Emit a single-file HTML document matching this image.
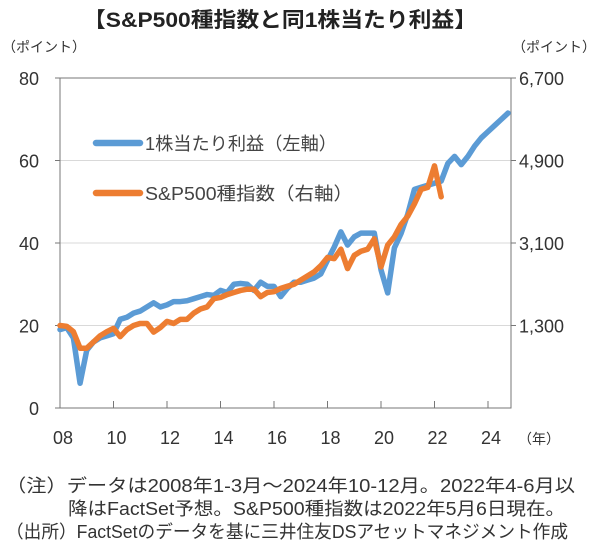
<!DOCTYPE html>
<html><head><meta charset="utf-8">
<style>
body{margin:0;background:#fff;width:600px;height:555px;overflow:hidden;font-family:"Liberation Sans","Noto Sans CJK JP",sans-serif;color:#333}
svg text{font-family:"Liberation Sans","Noto Sans CJK JP",sans-serif}
</style></head><body>
<svg id="chart" width="600" height="555" xmlns="http://www.w3.org/2000/svg">
<text x="83" y="27" textLength="394" lengthAdjust="spacingAndGlyphs" font-size="21" font-weight="bold" fill="#222">【S&amp;P500種指数と同1株当たり利益】</text>
<text x="2" y="52" font-size="14" fill="#333">（ポイント）</text>
<text x="512" y="52" font-size="14" fill="#333">（ポイント）</text>
<g id="grid"></g>
<rect x="60" y="78" width="451" height="330" fill="none" stroke="#777" stroke-width="1"/>
<g id="axes"></g>
<g id="series"></g>
<g>
<line x1="96" y1="143" x2="140" y2="143" stroke="#5B9BD5" stroke-width="6.5" stroke-linecap="round"/>
<text x="145" y="150" font-size="18" textLength="192" lengthAdjust="spacingAndGlyphs" fill="#444">1株当たり利益（左軸）</text>
<line x1="96" y1="193" x2="140" y2="193" stroke="#ED7D31" stroke-width="6.5" stroke-linecap="round"/>
<text x="145" y="200" font-size="18" textLength="208" lengthAdjust="spacingAndGlyphs" fill="#444">S&amp;P500種指数（右軸）</text>
</g>
<text x="518" y="444" font-size="14" fill="#333">（年）</text>
<g font-size="18" fill="#333">
<text x="6" y="492" textLength="569" lengthAdjust="spacingAndGlyphs">（注）データは2008年1-3月～2024年10-12月。2022年4-6月以</text>
<text x="68" y="515" textLength="497" lengthAdjust="spacingAndGlyphs">降はFactSet予想。S&amp;P500種指数は2022年5月6日現在。</text>
<text x="6" y="538" textLength="562" lengthAdjust="spacingAndGlyphs">（出所）FactSetのデータを基に三井住友DSアセットマネジメント作成</text>
</g>
</svg>
<script>
const eps = [19,19.5,17,6, 14,16,17,17.5, 18,21.5,22,23, 23.5,24.5,25.5,24.5, 25,25.8,25.8,26, 26.5,27,27.5,27.3, 28.5,28,30,30.2, 30,28.5,30.5,29.5, 29.5,27,29,30.5, 30.5,31,31.5,32.5, 35.8,39,42.7,39.5, 41.5,42.4,42.4,42.4, 33.5,27.9,38.8,42.3, 47,53,53.5,54, 54.5,55,59.3,61, 59,61,63.5,65.5, 67,68.5,70,71.5];
const sp500 = [1300,1282,1165,805, 805,940,1075,1165, 1237,1057,1210,1300, 1345,1345,1156,1255, 1390,1345,1435,1435, 1570,1660,1705,1885, 1912,1975,2020,2065, 2092,2092,1930,2020, 2038,2110,2155,2200, 2290,2380,2470,2605, 2785,2758,2965,2542, 2830,2920,2965,3190, 2578,3055,3235,3505, 3685,3955,4270,4315, 4783,4108];
const leftTicks = [0,20,40,60,80];
const rightTicks = [1300,3100,4900,6700];
const yearTicks = [8,10,12,14,16,18,20,22,24];
const yearLabels = ["08","10","12","14","16","18","20","22","24"];

const NS="http://www.w3.org/2000/svg";
const X0=60,X1=511,Y0=408,Y1=78;
const qStep=26.75/4;
function xQ(i){return X0+i*qStep;}
function xYear(y){return X0+(y-8)*26.75;}
function yL(v){return Y0-(v/80)*(Y0-Y1);}
function yR(v){return yL((v+500)/90);}
function mk(tag,attrs,parent){const e=document.createElementNS(NS,tag);for(const k in attrs)e.setAttribute(k,attrs[k]);parent.appendChild(e);return e;}
const grid=document.getElementById('grid'),axes=document.getElementById('axes'),series=document.getElementById('series');
leftTicks.forEach(v=>{
  if(v>0&&v<80){const g=mk('line',{x1:X0,x2:X1,y1:yL(v),y2:yL(v),stroke:'#d9d9d9','stroke-width':1},grid);
  
  }
  const t=mk('line',{x1:X0-5,x2:X0,y1:yL(v),y2:yL(v),stroke:'#777'},axes);
  
  
  const l=mk('text',{x:39,y:yL(v)+7,'text-anchor':'end','font-size':'18',fill:'#333'},axes);
  
  
  l.textContent=v;
});
rightTicks.forEach(v=>{
  const t=mk('line',{x1:X1,x2:X1+5,y1:yR(v),y2:yR(v),stroke:'#777'},axes);
  
  
  const l=mk('text',{x:519,y:yR(v)+7,'font-size':'18',fill:'#333'},axes);
  
  
  l.textContent=v.toLocaleString('en-US');
});
yearTicks.forEach((y,i)=>{
  if(i>0){const t=mk('line',{x1:xYear(y),x2:xYear(y),y1:Y0,y2:Y0-7,stroke:'#777'},axes);
  
  }
  const l=mk('text',{x:xYear(y)+3,y:444,'text-anchor':'middle','font-size':'18',fill:'#333'},axes);
  
  
  l.textContent=yearLabels[i];
});
const pe=mk('polyline',{points:eps.map((v,i)=>xQ(i)+','+yL(v)).join(' '),fill:'none',stroke:'#5B9BD5','stroke-width':5.5,'stroke-linejoin':'round','stroke-linecap':'round'},series);


const ps=mk('polyline',{points:sp500.map((v,i)=>xQ(i)+','+yR(v)).join(' '),fill:'none',stroke:'#ED7D31','stroke-width':5.5,'stroke-linejoin':'round','stroke-linecap':'round'},series);


</script>
</body></html>
